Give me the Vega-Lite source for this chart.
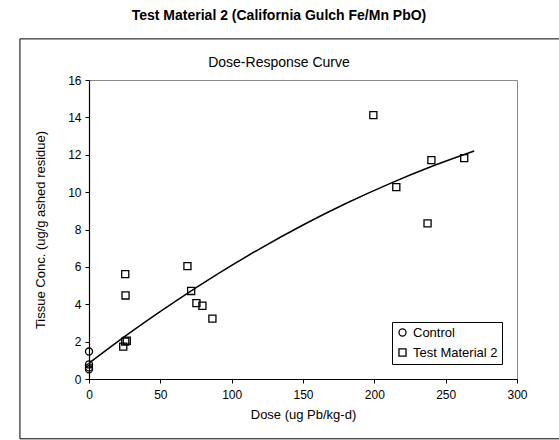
{
  "$schema": "https://vega.github.io/schema/vega-lite/v6.json",
  "width": 428,
  "height": 299,
  "autosize": {"type": "none"},
  "padding": {"left": 89, "top": 80, "right": 42, "bottom": 61},
  "background": "white",
  "title": {
    "text": "Test Material 2 (California Gulch Fe/Mn PbO)",
    "subtitle": "Dose-Response Curve",
    "anchor": "middle",
    "dx": -24,
    "fontSize": 14,
    "fontWeight": "bold",
    "font": "Liberation Sans",
    "color": "black",
    "subtitleFont": "Liberation Sans",
    "subtitleFontSize": 14,
    "subtitleColor": "black",
    "subtitlePadding": 33,
    "offset": -32
  },
  "config": {
    "font": "Liberation Sans",
    "view": {"stroke": "#888888", "strokeWidth": 1},
    "axis": {
      "grid": false,
      "domainColor": "black",
      "domainWidth": 1.2,
      "tickColor": "black",
      "tickSize": 4,
      "labelFontSize": 12,
      "labelColor": "black",
      "labelOverlap": false,
      "labelFlush": false,
      "titleFontSize": 13,
      "titleFontWeight": "normal",
      "titleColor": "black",
      "labelFont": "Liberation Sans",
      "titleFont": "Liberation Sans"
    }
  },
  "datasets": {
    "curve": [
      {"dose": 0, "conc": 0.85},
      {"dose": 30, "conc": 2.55},
      {"dose": 60, "conc": 4.13},
      {"dose": 90, "conc": 5.61},
      {"dose": 120, "conc": 6.98},
      {"dose": 150, "conc": 8.24},
      {"dose": 180, "conc": 9.39},
      {"dose": 210, "conc": 10.43},
      {"dose": 240, "conc": 11.37},
      {"dose": 270, "conc": 12.2}
    ],
    "obs": [
      {"group": "Control", "dose": 0, "conc": 1.47},
      {"group": "Control", "dose": 0, "conc": 0.78},
      {"group": "Control", "dose": 0, "conc": 0.62},
      {"group": "Control", "dose": 0, "conc": 0.52},
      {"group": "Test Material 2", "dose": 24, "conc": 1.73},
      {"group": "Test Material 2", "dose": 25.4, "conc": 2.0},
      {"group": "Test Material 2", "dose": 26.5, "conc": 2.05},
      {"group": "Test Material 2", "dose": 25.4, "conc": 5.61},
      {"group": "Test Material 2", "dose": 25.6, "conc": 4.47},
      {"group": "Test Material 2", "dose": 69, "conc": 6.04},
      {"group": "Test Material 2", "dose": 71.6, "conc": 4.71},
      {"group": "Test Material 2", "dose": 75.3, "conc": 4.06},
      {"group": "Test Material 2", "dose": 79.5, "conc": 3.92},
      {"group": "Test Material 2", "dose": 86.5, "conc": 3.23},
      {"group": "Test Material 2", "dose": 199.3, "conc": 14.12},
      {"group": "Test Material 2", "dose": 215.4, "conc": 10.27},
      {"group": "Test Material 2", "dose": 237.3, "conc": 8.33},
      {"group": "Test Material 2", "dose": 240, "conc": 11.71},
      {"group": "Test Material 2", "dose": 263, "conc": 11.82}
    ]
  },
  "layer": [
    {
      "data": {"values": [{}]},
      "mark": {"type": "rect", "fill": null, "fillOpacity": 0, "stroke": "black", "strokeWidth": 1, "clip": false},
      "encoding": {
        "x": {
          "datum": -48.4,
          "type": "quantitative",
          "scale": {"domain": [0, 300], "nice": false, "zero": false},
          "axis": {"values": [0, 50, 100, 150, 200, 250, 300], "title": "Dose (ug Pb/kg-d)", "labelPadding": 6, "titlePadding": 8, "labelOverlap": false, "labelFlush": false}
        },
        "x2": {"datum": 338},
        "y": {
          "datum": 18.2,
          "type": "quantitative",
          "scale": {"domain": [0, 16], "nice": false, "zero": false},
          "axis": {"values": [0, 2, 4, 6, 8, 10, 12, 14, 16], "tickCount": 9, "title": "Tissue Conc. (ug/g ashed residue)", "labelPadding": 4, "titlePadding": 20, "labelOverlap": false, "labelFlush": false}
        },
        "y2": {"datum": -3.2}
      }
    },
    {
      "data": {"name": "curve"},
      "mark": {"type": "line", "color": "black", "strokeWidth": 1.5, "interpolate": "monotone"},
      "encoding": {
        "x": {"field": "dose", "type": "quantitative"},
        "y": {"field": "conc", "type": "quantitative"}
      }
    },
    {
      "data": {"name": "obs"},
      "mark": {"type": "point", "filled": false, "strokeWidth": 1.3, "size": 50, "opacity": 1},
      "encoding": {
        "x": {
          "field": "dose",
          "type": "quantitative",
          "scale": {"domain": [0, 300], "nice": false, "zero": false},
          "axis": {"values": [0, 50, 100, 150, 200, 250, 300], "title": "Dose (ug Pb/kg-d)", "labelPadding": 6, "titlePadding": 8, "labelOverlap": false, "labelFlush": false}
        },
        "y": {
          "field": "conc",
          "type": "quantitative",
          "scale": {"domain": [0, 16], "nice": false, "zero": false},
          "axis": {"values": [0, 2, 4, 6, 8, 10, 12, 14, 16], "tickCount": 9, "title": "Tissue Conc. (ug/g ashed residue)", "labelPadding": 4, "titlePadding": 20, "labelOverlap": false, "labelFlush": false}
        },
        "shape": {
          "field": "group",
          "type": "nominal",
          "scale": {"domain": ["Control", "Test Material 2"], "range": ["circle", "square"]},
          "legend": {
            "orient": "bottom-right",
            "offset": 15,
            "title": null,
            "strokeColor": "black",
            "fillColor": "white",
            "padding": 4,
            "labelFontSize": 13,
            "labelColor": "black",
            "labelFont": "Liberation Sans",
            "symbolStrokeColor": "black",
            "symbolStrokeWidth": 1.3,
            "symbolSize": 50,
            "rowPadding": 6
          }
        },
        "color": {"value": "black"}
      }
    }
  ]
}
